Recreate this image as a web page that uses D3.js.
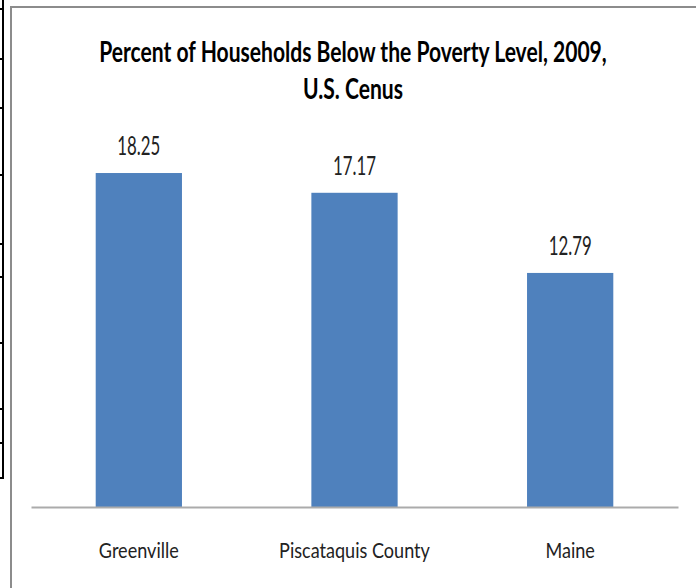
<!DOCTYPE html>
<html>
<head>
<meta charset="utf-8">
<script src="https://cdn.jsdelivr.net/npm/d3@7/dist/d3.min.js"></script>
<style>
  body { margin: 0; background: #fff; }
  svg text { font-family: Lato, "Open Sans", sans-serif; }
</style>
</head>
<body>
<svg id="chart"></svg>
<script>
// Chart data
var categories = ["Greenville", "Piscataquis County", "Maine"];
var values = [18.25, 17.17, 12.79];
var valueLabels = ["18.25", "17.17", "12.79"];
var titleLines = ["Percent of Households Below the Poverty Level, 2009,", "U.S. Cenus"];
var yDomain = [0, 20];

// Define canvas
var width = 696, height = 588;
var margin = { top: 141, right: 18, bottom: 81, left: 31 };

var svg = d3.select("#chart")
    .attr("width", width)
    .attr("height", height);

// Texts are drawn at x=0 inside a positioned group, then squeezed
// horizontally so they read like the narrow original font
function condense(sel, target) {
    var k = target / sel.node().getComputedTextLength();
    sel.attr("transform", "scale(" + k + ",1)");
}

// Bits of a table peeking in at the left edge
var tableRows = [9, 59, 108, 175, 244, 277, 343, 409, 443, 478];
svg.append("line")
    .attr("x1", 3).attr("x2", 3)
    .attr("y1", 0).attr("y2", 479)
    .attr("stroke", "#000").attr("stroke-width", 2);
svg.selectAll(".table-row")
    .data(tableRows)
    .enter().append("line")
    .attr("class", "table-row")
    .attr("x1", 0).attr("x2", 4)
    .attr("y1", d => d).attr("y2", d => d)
    .attr("stroke", "#000").attr("stroke-width", 2);

// Chart frame
svg.append("rect")
    .attr("x", 11).attr("y", 7)
    .attr("width", width + 20).attr("height", height + 20)
    .attr("fill", "#fff")
    .attr("stroke", "#8c8c8c")
    .attr("stroke-width", 2);

// Scales
var x = d3.scaleBand()
    .domain(categories)
    .range([margin.left, width - margin.right])
    .paddingInner(0.6)
    .paddingOuter(0.3);

var y = d3.scaleLinear()
    .domain(yDomain)
    .range([height - margin.bottom, margin.top]);

// Title
var titleText = svg.append("g")
    .attr("class", "title")
    .selectAll("g")
    .data(titleLines)
    .enter().append("g")
    .attr("transform", (d, i) => "translate(353," + (62 + i * 37) + ")")
    .append("text")
    .attr("text-anchor", "middle")
    .attr("font-size", 28)
    .attr("font-weight", "bold")
    .attr("fill", "#000")
    .text(d => d);
condense(titleText, 508);

// Bars
svg.append("g")
    .selectAll("rect")
    .data(values)
    .enter().append("rect")
    .attr("x", (d, i) => x(categories[i]))
    .attr("y", d => y(d))
    .attr("width", x.bandwidth())
    .attr("height", d => y(0) - y(d))
    .attr("fill", "#4f81bd");

// Value labels
var labels = svg.append("g")
    .selectAll("g")
    .data(values)
    .enter().append("g")
    .attr("transform", (d, i) => "translate(" + (x(categories[i]) + x.bandwidth() / 2) + "," + (y(d) - 18) + ")")
    .append("text")
    .attr("text-anchor", "middle")
    .attr("font-size", 26)
    .attr("fill", "#222")
    .text((d, i) => valueLabels[i]);
condense(labels, 43);

// X axis
var xAxis = svg.append("g")
    .attr("transform", "translate(0," + y(0) + ")")
    .call(d3.axisBottom(x).tickSize(0).tickSizeOuter(0));
xAxis.select(".domain")
    .attr("stroke", "#ababab")
    .attr("stroke-width", 2);
var tickText = xAxis.selectAll(".tick text")
    .attr("y", 51)
    .attr("dy", 0)
    .attr("font-size", 22)
    .attr("font-family", null)
    .attr("fill", "#222");
condense(tickText, 80);
</script>
</body>
</html>
